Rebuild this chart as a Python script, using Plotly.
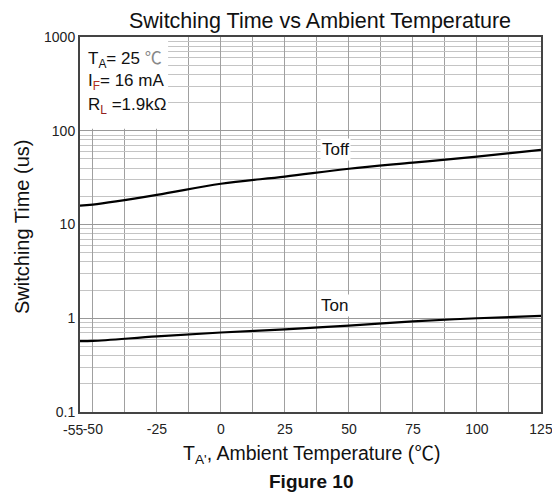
import plotly.graph_objects as go

# Data
temps = [-55, -50, -25, 0, 25, 50, 75, 100, 125]
toff_us = [15.9, 16.3, 20.7, 27.2, 32.4, 39.3, 45.7, 53.0, 62.4]
ton_us = [0.57, 0.573, 0.64, 0.705, 0.76, 0.835, 0.925, 1.0, 1.06]

x_ticks = [-50, -25, 0, 25, 50, 75, 100, 125]
x_first_label = "-55"
x_minor = [-55, -37.5, -12.5, 12.5, 37.5, 62.5, 87.5, 112.5]
y_ticks = [0.1, 1, 10, 100, 1000]
y_tick_text = ["0.1", "1", "10", "100", "1000"]
y_minor = [m * 10 ** k for k in range(-1, 3) for m in range(2, 10)]

FONT = "Liberation Sans, Arial, sans-serif"
CJK = "Noto Sans CJK SC"
OFF = 8  # page body margin

fig = go.Figure()
fig.add_trace(go.Scatter(x=temps, y=toff_us, mode="lines", name="Toff",
                         line=dict(color="black", width=2.2, shape="spline"),
                         showlegend=False))
fig.add_trace(go.Scatter(x=temps, y=ton_us, mode="lines", name="Ton",
                         line=dict(color="black", width=2.2, shape="spline"),
                         showlegend=False))

W, H = 560 - OFF, 498 - OFF
L, T, R, B = 80 - OFF, 37 - OFF, 19, 86
fig.update_layout(
    width=W, height=H,
    margin=dict(l=L, r=R, t=T, b=B, autoexpand=False),
    paper_bgcolor="white", plot_bgcolor="white",
    font=dict(family=FONT, color="#222"),
    title=dict(text="Switching Time vs Ambient Temperature",
               x=(320 - OFF) / W, xanchor="center", xref="container",
               y=1 - (20 - OFF) / H, yanchor="middle", yref="container",
               font=dict(size=21.5, color="#111", family=FONT)),
)

fig.update_xaxes(
    range=[-55, 125], tickvals=x_ticks, ticktext=[str(v) for v in x_ticks],
    tickangle=0, tickfont=dict(size=14, color="#222"), ticklabelstandoff=3,
    showgrid=True, gridcolor="#a0a0a0", gridwidth=1,
    minor=dict(tickvals=x_minor, showgrid=True, gridcolor="#a0a0a0", gridwidth=1, ticklen=0),
    showline=True, linecolor="#444", linewidth=2, mirror=True,
    ticks="", zeroline=False,
)
fig.update_yaxes(
    type="log", range=[-1, 3], tickvals=y_ticks, ticktext=y_tick_text,
    tickfont=dict(size=14, color="#222"),
    showgrid=True, gridcolor="#999", gridwidth=1,
    minor=dict(tickvals=y_minor, showgrid=True, gridcolor="#c4c4c4", gridwidth=1, ticklen=0),
    showline=True, linecolor="#444", linewidth=2, mirror=True,
    ticks="", zeroline=False,
)

PW, PH = 461, 375


def px_x(xp):
    return (xp - 80) / PW


def px_y(yp):
    return (412 - yp) / PH


# first x tick label, nudged left as in the reference
fig.add_annotation(text=x_first_label, xref="paper", yref="paper",
                   x=px_x(73), y=px_y(430), xanchor="center", yanchor="middle",
                   showarrow=False, font=dict(size=14, color="#222", family=FONT))

# White box behind the condition text
fig.add_shape(type="rect", xref="x", yref="y", x0=-55, x1=-20.6, y0=105, y1=1000,
              fillcolor="white", line=dict(width=0), layer="between")

deg = f"<span style='font-family:{CJK};color:#888'>℃</span>"
cond_lines = [
    (f"T<sub>A</sub>= 25 {deg}", 57),
    ("I<sub><span style='color:#b03020'>F</span></sub>= 16 mA", 82),
    ("R<sub><span style='color:#902020'>L</span></sub> =1.9kΩ", 106),
]
for txt, ypx in cond_lines:
    fig.add_annotation(text=txt, xref="paper", yref="paper",
                       x=px_x(86), y=px_y(ypx),
                       xanchor="left", yanchor="middle", showarrow=False,
                       font=dict(size=17, color="#111", family=FONT))

fig.add_annotation(text="Toff", xref="x", yref="y", x=44.6, y=1.795,
                   yanchor="middle", xanchor="center", showarrow=False,
                   bgcolor="white", font=dict(size=17, color="#111", family=FONT))
fig.add_annotation(text="Ton", xref="x", yref="y", x=44.2, y=0.131,
                   yanchor="middle", xanchor="center", showarrow=False,
                   bgcolor="white", font=dict(size=17, color="#111", family=FONT))

fig.add_annotation(text="Switching Time (us)", xref="paper", yref="paper",
                   x=px_x(22), y=px_y(227), xanchor="center", yanchor="middle",
                   textangle=-90, showarrow=False,
                   font=dict(size=20, color="#111", family=FONT))
fig.add_annotation(text=f"T<sub>A'</sub>, Ambient Temperature (<span style='font-family:{CJK}'>℃</span>)",
                   xref="paper", yref="paper",
                   x=px_x(311), y=px_y(452), xanchor="center", yanchor="middle",
                   showarrow=False, font=dict(size=19.5, color="#111", family=FONT))
fig.add_annotation(text="<b>Figure 10</b>", xref="paper", yref="paper",
                   x=px_x(311), y=px_y(481), xanchor="center", yanchor="middle",
                   showarrow=False, font=dict(size=19, color="#111", family=FONT))

fig.write_html("out.html")
